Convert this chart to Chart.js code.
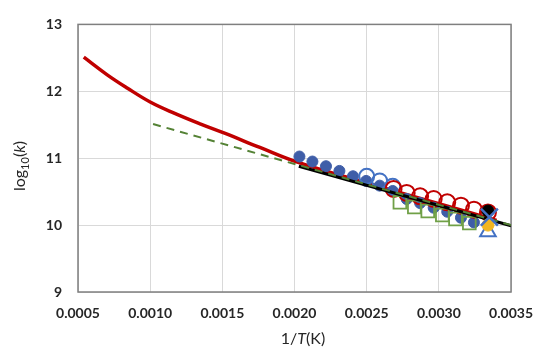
<!DOCTYPE html>
<html>
<head>
<meta charset="utf-8">
<script src="https://cdn.jsdelivr.net/npm/chart.js@4"></script>
<style>
  html, body { margin: 0; padding: 0; background: #fff; }
  #wrap { width: 546px; height: 347px; }
</style>
</head>
<body>
<div id="wrap"><canvas id="chart"></canvas></div>
<script>
// Arrhenius-style plot: log10(k) vs 1/T

// red model curve
const curveX = [0.00054, 0.00070, 0.00084, 0.00100, 0.00117, 0.00135, 0.00152, 0.00176, 0.00202, 0.00250, 0.00300, 0.00340];
const curveY = [12.51, 12.25, 12.05, 11.84, 11.67, 11.51, 11.37, 11.16, 10.94, 10.63, 10.32, 10.07];

// green dashed fit
const dashX = [0.00102, 0.00350];
const dashY = [11.51, 10.00];

// black fit
const fitX = [0.00203, 0.00350];
const fitY = [10.88, 9.99];

// filled blue circles
const blueX = [0.002034, 0.002124, 0.002218, 0.002311, 0.002405, 0.002496, 0.002590, 0.002680, 0.002777, 0.002870, 0.002964, 0.003058, 0.003153, 0.003243];
const blueY = [11.025, 10.95, 10.88, 10.81, 10.73, 10.66, 10.59, 10.51, 10.39, 10.33, 10.26, 10.20, 10.11, 10.04];

// open blue circles
const ringX = [0.00250, 0.00259, 0.00268];
const ringY = [10.73, 10.66, 10.58];

// open red circles
const redX = [0.002686, 0.002777, 0.002870, 0.002964, 0.003058, 0.003153, 0.003243, 0.003340];
const redY = [10.54, 10.48, 10.43, 10.39, 10.34, 10.29, 10.23, 10.19];

// open green squares
const sqX = [0.00273, 0.00283, 0.002923, 0.003024, 0.003115, 0.003211];
const sqY = [10.34, 10.27, 10.21, 10.15, 10.09, 10.03];

// single points at ~298 K
const blackPt = [0.00334, 10.21];
const yellowPt = [0.00334, 10.00];
const triPt = [0.00334, 9.90];
const crossPt = [0.00335, 10.12];

// x tick labels
const xTicks = [0.0005, 0.0010, 0.0015, 0.0020, 0.0025, 0.0030, 0.0035];

const pts = (xs, ys) => xs.map((x, i) => ({ x: x, y: ys[i] }));

// frame + axis titles
const extras = {
  id: 'extras',
  beforeDatasetsDraw(chart) {
    const { ctx, chartArea: a } = chart;
    ctx.save();
    ctx.strokeStyle = '#7f7f7f';
    ctx.lineWidth = 1.5;
    ctx.strokeRect(a.left, a.top, a.right - a.left, a.bottom - a.top);
    ctx.restore();
  },
  afterDraw(chart) {
    const ctx = chart.ctx;
    ctx.save();
    ctx.fillStyle = '#262626';
    ctx.textBaseline = 'alphabetic';
    // x title: 1/T(K)
    const parts = [['1/', '16px Lato'], ['T', 'italic 16px Lato'], ['(K)', '16px Lato']];
    let w = 0;
    parts.forEach(p => { ctx.font = p[1]; w += ctx.measureText(p[0]).width; });
    let x = 303 - w / 2;
    parts.forEach(p => { ctx.font = p[1]; ctx.fillText(p[0], x, 344); x += ctx.measureText(p[0]).width; });
    // y title: log10(k)
    ctx.translate(25, 166);
    ctx.rotate(-Math.PI / 2);
    const yp = [['log', '16px Lato', 0], ['10', '11px Lato', 4], ['(', '16px Lato', 0], ['k', 'italic 16px Lato', 0], [')', '16px Lato', 0]];
    w = 0;
    yp.forEach(p => { ctx.font = p[1]; w += ctx.measureText(p[0]).width; });
    x = -w / 2;
    yp.forEach(p => { ctx.font = p[1]; ctx.fillText(p[0], x, p[2]); x += ctx.measureText(p[0]).width; });
    ctx.restore();
  }
};

new Chart(document.getElementById('chart'), {
  type: 'scatter',
  data: {
    datasets: [
      { label: 'model', data: pts(curveX, curveY), showLine: true, borderColor: '#c00000', borderWidth: 3.5, pointRadius: 0, tension: 0.4, order: 12 },
      { label: 'blue filled', data: pts(blueX, blueY), backgroundColor: '#3f5ea8', borderColor: '#3f5ea8', pointRadius: 5.5, order: 10 },
      { label: 'blue open', data: pts(ringX, ringY), backgroundColor: 'rgba(0,0,0,0)', borderColor: '#4472c4', borderWidth: 2, pointRadius: 7.5, order: 9 },
      { label: 'red open', data: pts(redX, redY), backgroundColor: 'rgba(0,0,0,0)', borderColor: '#c00000', borderWidth: 2, pointRadius: 8, order: 8 },
      { label: 'green open', data: pts(sqX, sqY), pointStyle: 'rect', backgroundColor: 'rgba(0,0,0,0)', borderColor: '#70a047', borderWidth: 1.8, pointRadius: 9, order: 7 },
      { label: 'fit', data: pts(fitX, fitY), showLine: true, borderColor: '#000000', borderWidth: 3, pointRadius: 0, order: 6 },
      { label: 'dashed fit', data: pts(dashX, dashY), showLine: true, borderColor: '#548235', borderWidth: 2, borderDash: [8, 6], pointRadius: 0, order: 5.5 },
      { label: 'triangle', data: [{ x: triPt[0], y: triPt[1] }], pointStyle: 'triangle', backgroundColor: 'rgba(0,0,0,0)', borderColor: '#4472c4', borderWidth: 2, pointRadius: 9, order: 5 },
      { label: 'yellow', data: [{ x: yellowPt[0], y: yellowPt[1] }], backgroundColor: '#f2b620', borderColor: '#f2b620', pointRadius: 6, order: 4 },
      { label: 'black', data: [{ x: blackPt[0], y: blackPt[1] }], backgroundColor: '#000000', borderColor: '#000000', pointRadius: 6, order: 3 },
      { label: 'cross', data: [{ x: crossPt[0], y: crossPt[1] }], pointStyle: 'crossRot', borderColor: '#4472c4', borderWidth: 2.5, pointRadius: 12, order: 2 }
    ]
  },
  options: {
    responsive: true,
    maintainAspectRatio: false,
    animation: false,
    layout: { padding: { top: 18, right: 24, left: 0, bottom: 0 } },
    plugins: { legend: { display: false }, tooltip: { enabled: false } },
    scales: {
      x: {
        type: 'linear',
        min: 0.0005,
        max: 0.0035,
        afterBuildTicks: s => { s.ticks = xTicks.map(v => ({ value: v })); },
        afterFit: s => { s.height = 55; },
        grid: { color: '#d9d9d9', drawTicks: false, tickLength: 0 },
        border: { display: false },
        ticks: { padding: 13, maxRotation: 0, color: '#262626', font: { family: 'Lato', size: 14, weight: 'bold' }, callback: v => v.toFixed(4) }
      },
      y: {
        min: 9,
        max: 13,
        ticks: { stepSize: 1, padding: 16, color: '#262626', font: { family: 'Lato', size: 14, weight: 'bold' } },
        afterFit: s => { s.width = 78; },
        grid: { color: '#d9d9d9', drawTicks: false, tickLength: 0 },
        border: { display: false }
      }
    }
  },
  plugins: [extras]
});
</script>
</body>
</html>
